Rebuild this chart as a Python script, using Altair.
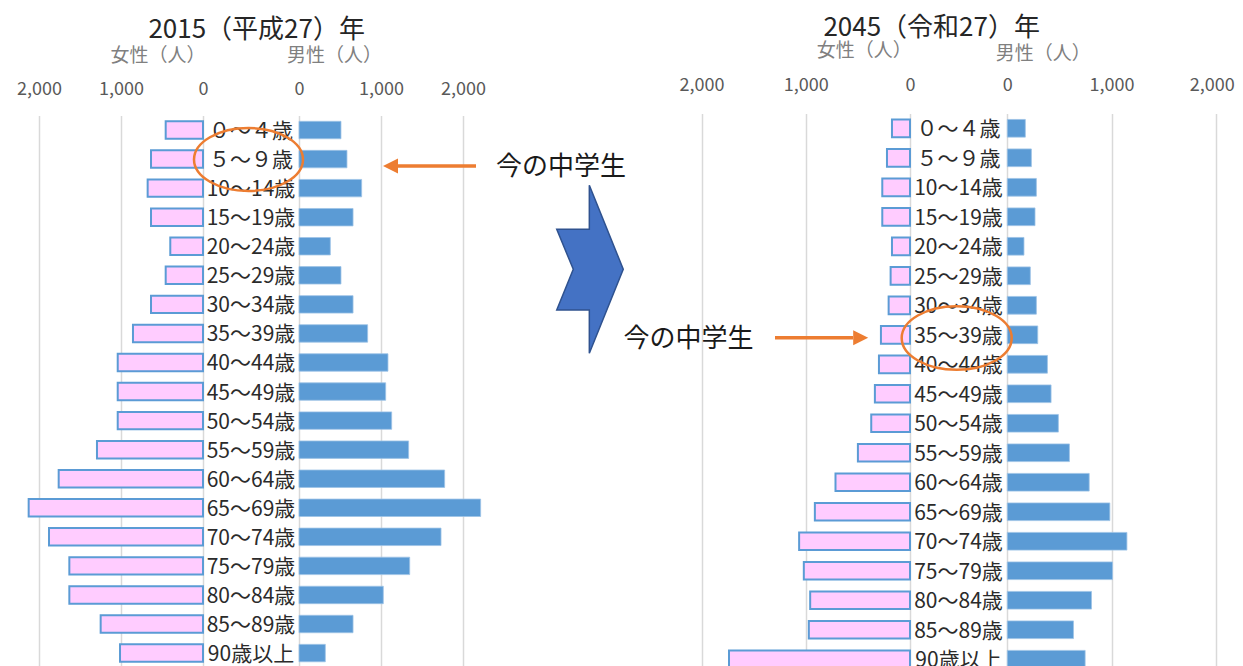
import altair as alt
import pandas as pd

# ---------------- data ----------------
ages = ["０～４歳", "５～９歳", "10～14歳", "15～19歳", "20～24歳", "25～29歳",
        "30～34歳", "35～39歳", "40～44歳", "45～49歳", "50～54歳", "55～59歳",
        "60～64歳", "65～69歳", "70～74歳", "75～79歳", "80～84歳", "85～89歳",
        "90歳以上"]
female_2015 = [455, 634, 675, 634, 399, 455, 634, 854, 1040, 1040, 1040, 1293,
               1760, 2126, 1878, 1630, 1630, 1248, 1012]
male_2015 = [512, 585, 764, 659, 382, 512, 659, 837, 1085, 1057, 1130, 1337,
             1776, 2215, 1732, 1350, 1028, 659, 321]
female_2045 = [173, 221, 266, 266, 173, 186, 205, 279, 298, 337, 372, 500,
               715, 913, 1064, 1019, 958, 971, 1737]
male_2045 = [173, 231, 279, 266, 160, 221, 279, 292, 385, 420, 490, 596,
             786, 984, 1148, 1010, 808, 635, 747]
tick_values = [0, 1000, 2000]
title_2015 = "2015（平成27）年"
title_2045 = "2045（令和27）年"
female_title = "女性（人）"
male_title = "男性（人）"
note_text = "今の中学生"

df = pd.DataFrame({"age": ages, "f2015": female_2015, "m2015": male_2015,
                   "f2045": female_2045, "m2045": male_2045})
one = pd.DataFrame({"k": [0]})

FONT = "Noto Sans CJK JP"
W, H = 1227, 551
PINK, BLUE, ORANGE = "#FFCCFF", "#5B9BD5", "#ED7D31"


def xscale(zero_px, px_per_1000, reverse):
    k = px_per_1000 / 1000.0
    if reverse:
        return alt.Scale(domain=[(zero_px - W) / k, zero_px / k], reverse=True,
                         nice=False, zero=False)
    return alt.Scale(domain=[-zero_px / k, (W - zero_px) / k], nice=False, zero=False)


def xaxis(pad, edge_shift=0):
    extra = {}
    if edge_shift:
        extra["labelOffset"] = {"condition": {"test": "datum.value == 2000",
                                              "value": edge_shift}, "value": 0}
    return alt.Axis(orient="top", values=tick_values, format=",.0f", grid=True,
                    gridColor="#D9D9D9", gridWidth=1.5, domain=False, ticks=False,
                    tickSize=0, labelPadding=pad, labelFontSize=18,
                    labelColor="#595959", labelFont=FONT, labelFlush=False,
                    labelOverlap=False, title=None, **extra)


def yscale(r0, r1):
    return alt.Scale(domain=ages, range=[r0, r1], paddingInner=0.4, paddingOuter=0.2)


def pyramid(ffield, mfield, f_zero, m_zero, ppk, ys, pad, label_x, edge_shift=0):
    fem = alt.Chart(df).mark_bar(fill=PINK, stroke=BLUE, strokeWidth=2).encode(
        x=alt.X(f"{ffield}:Q", scale=xscale(f_zero, ppk, True), axis=xaxis(pad)),
        x2=alt.datum(0),
        y=alt.Y("age:N", scale=ys, axis=None),
    )
    mal = alt.Chart(df).mark_bar(fill=BLUE, stroke="#9DC3E6", strokeWidth=0.8).encode(
        x=alt.X(f"{mfield}:Q", scale=xscale(m_zero, ppk, False),
                axis=xaxis(pad, edge_shift)),
        x2=alt.datum(0),
        y=alt.Y("age:N", scale=ys, axis=None),
    )
    lbl = alt.Chart(df).mark_text(font=FONT, fontSize=21, color="#2B2B2B",
                                  align="center", baseline="middle", dy=2).encode(
        x=alt.value(label_x),
        y=alt.Y("age:N", scale=ys, axis=None),
        text="age:N",
    )
    return alt.layer(fem, mal, lbl).resolve_scale(x="independent").resolve_axis(x="independent")


left = pyramid("f2015", "m2015", 195, 291, 82.0, yscale(0.5, 552.6), 17, 243)
right = pyramid("f2045", "m2045", 902, 999.3, 104.2, yscale(-1.45, 559), 21, 950.5,
                edge_shift=-4)


def text(s, x, y, size, color):
    return alt.Chart(one).mark_text(text=s, font=FONT, fontSize=size, color=color,
                                    align="center", baseline="middle").encode(
        x=alt.value(x), y=alt.value(y))


def shape(path, x, y, size, **kw):
    return alt.Chart(one).mark_point(shape=path, size=size, opacity=1, **kw).encode(
        x=alt.value(x), y=alt.value(y))


def rule(x1, x2, y):
    return alt.Chart(one).mark_rule(color=ORANGE, strokeWidth=3.5).encode(
        x=alt.value(x1), x2=alt.value(x2), y=alt.value(y))


ellipse = "M-1,0 A1,0.578 0 1,1 1,0 A1,0.578 0 1,1 -1,0 Z"
chevron = ("M-0.008,-1 L0.396,0 L-0.008,1 L-0.008,0.484 L-0.396,0.484 "
           "L-0.199,0 L-0.396,-0.476 L-0.008,-0.476 Z")
head_left = "M-1,0 L1,-1 L1,1 Z"
head_right = "M1,0 L-1,-1 L-1,1 Z"

ann = [
    text(title_2015, 248.7, -85, 26, "#262626"),
    text(title_2045, 923.7, -87, 26, "#262626"),
    text(female_title, 150, -59, 19, "#808080"),
    text(male_title, 326.5, -59, 19, "#808080"),
    text(female_title, 856.2, -64, 19, "#808080"),
    text(male_title, 1035.3, -61, 19, "#808080"),
    text(note_text, 553, 52, 26, "#1A1A1A"),
    text(note_text, 680.5, 224, 26, "#1A1A1A"),
    rule(390, 468, 51),
    shape(head_left, 382.5, 51, 225, filled=True, fill=ORANGE, strokeWidth=0),
    rule(767, 845, 222.7),
    shape(head_right, 852.7, 222.7, 225, filled=True, fill=ORANGE, strokeWidth=0),
    shape(ellipse, 240.5, 44.5, 11881, filled=False, stroke=ORANGE, strokeWidth=2.5),
    shape(ellipse, 948.7, 223, 12100, filled=False, stroke=ORANGE, strokeWidth=2.5),
    shape(chevron, 582, 154.3, 28224, filled=True, fill="#4472C4",
          stroke="#2F528F", strokeWidth=1.5),
]

chart = alt.layer(left, right, *ann).resolve_scale(
    x="independent", y="independent"
).resolve_axis(x="independent", y="independent").properties(
    width=W, height=H,
    autosize=alt.AutoSizeParams(type="none"),
    padding={"top": 107, "left": 0, "right": 0, "bottom": 0},
    background="white",
).configure_view(stroke=None)

chart.save("out.html", embed_options={"renderer": "svg", "actions": False})
